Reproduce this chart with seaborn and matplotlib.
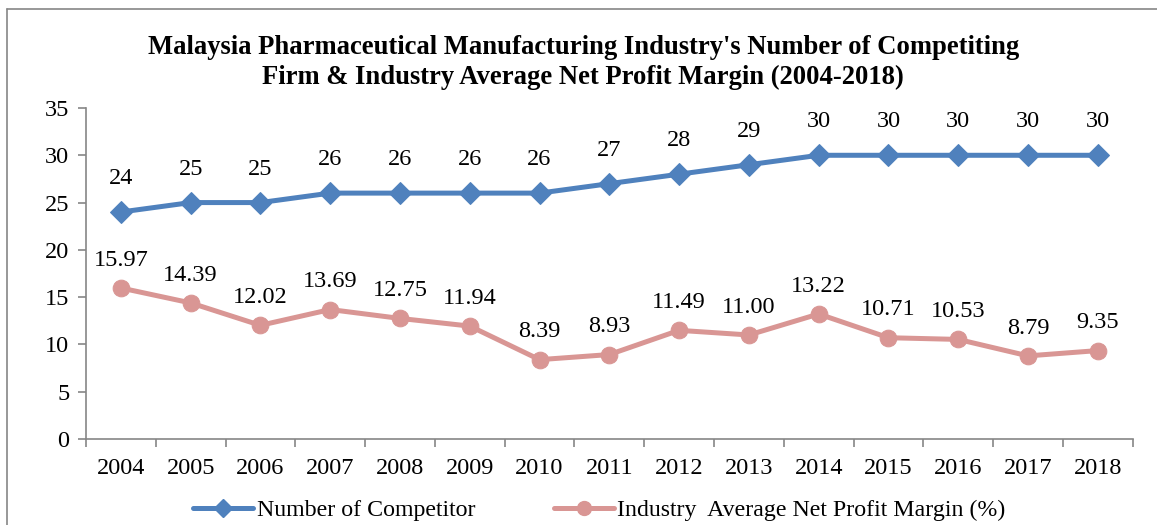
import matplotlib
matplotlib.use("Agg")
import matplotlib.pyplot as plt
import seaborn as sns
import pandas as pd
from matplotlib.lines import Line2D

years = ["2004", "2005", "2006", "2007", "2008", "2009", "2010", "2011",
         "2012", "2013", "2014", "2015", "2016", "2017", "2018"]
competitors = [24, 25, 25, 26, 26, 26, 26, 27, 28, 29, 30, 30, 30, 30, 30]
margin = [15.97, 14.39, 12.02, 13.69, 12.75, 11.94, 8.39, 8.93,
          11.49, 11.00, 13.22, 10.71, 10.53, 8.79, 9.35]

blue = "#4F81BD"
pink = "#D99694"

sns.set_theme(style="white")
plt.rcParams["font.family"] = ["Liberation Serif", "DejaVu Serif"]
plt.rcParams["text.color"] = "black"
plt.rcParams["xtick.labelcolor"] = "black"
plt.rcParams["ytick.labelcolor"] = "black"

df = pd.DataFrame({"year": years, "comp": competitors, "margin": margin})

fig = plt.figure(figsize=(11.57, 5.25), dpi=100)
ax = fig.add_axes([0.0743, 0.1638, 0.9047, 0.6305])

sns.lineplot(data=df, x="year", y="comp", ax=ax, color=blue, lw=3.6,
             marker="D", markersize=11.5, markeredgecolor=blue, sort=False)
sns.lineplot(data=df, x="year", y="margin", ax=ax, color=pink, lw=3.6,
             marker="o", markersize=12, markeredgecolor=pink, sort=False)

for i, v in enumerate(competitors):
    ax.annotate(f"{v}", (i, v), xytext=(0, 24), textcoords="offset points",
                ha="center", va="center", fontsize=17.5, color="black")
for i, v in enumerate(margin):
    ax.annotate(f"{v:.2f}", (i, v), xytext=(0, 20), textcoords="offset points",
                ha="center", va="center", fontsize=17.5, color="black")

ax.set_xlim(-0.5, len(years) - 0.5)
ax.set_ylim(0, 35)
ax.set_yticks(range(0, 36, 5))
ax.set_xlabel("")
ax.set_ylabel("")
ax.tick_params(axis="x", which="major", length=0, pad=14, labelsize=17.5)
ax.set_xticks([i - 0.5 for i in range(len(years) + 1)], minor=True)
ax.tick_params(axis="x", which="minor", length=6, color="#868686", width=1.2, bottom=True)
ax.tick_params(axis="y", length=6, color="#868686", width=1.2, labelsize=17.5, pad=6,
               left=True)
for s in ["top", "right"]:
    ax.spines[s].set_visible(False)
for s in ["left", "bottom"]:
    ax.spines[s].set_color("#868686")
    ax.spines[s].set_linewidth(1.2)

fig.text(0.504, 0.881, "Malaysia Pharmaceutical Manufacturing Industry's Number of Competiting\n"
         "Firm & Industry Average Net Profit Margin (2004-2018)",
         ha="center", va="center", fontsize=19.2, fontweight="bold", linespacing=1.3)

handles = [
    Line2D([], [], color=blue, lw=3.6, marker="D", markersize=9),
    Line2D([], [], color=pink, lw=3.6, marker="o", markersize=10),
]
fig.legend(handles, ["Number of Competitor", "Industry  Average Net Profit Margin (%)"],
           loc="center", bbox_to_anchor=(0.518, 0.028), ncol=2, frameon=False,
           fontsize=17.2, handlelength=2.5, columnspacing=3.3, handletextpad=0.15)

# outer chart border (only top/left visible in crop)
fig.add_artist(Line2D([7 / 1157, 1.0], [1 - 9 / 525] * 2, transform=fig.transFigure,
                      color="#868686", lw=1.2))
fig.add_artist(Line2D([7 / 1157] * 2, [0, 1 - 9 / 525], transform=fig.transFigure,
                      color="#868686", lw=1.2))

fig.savefig("out.png", dpi=100)
